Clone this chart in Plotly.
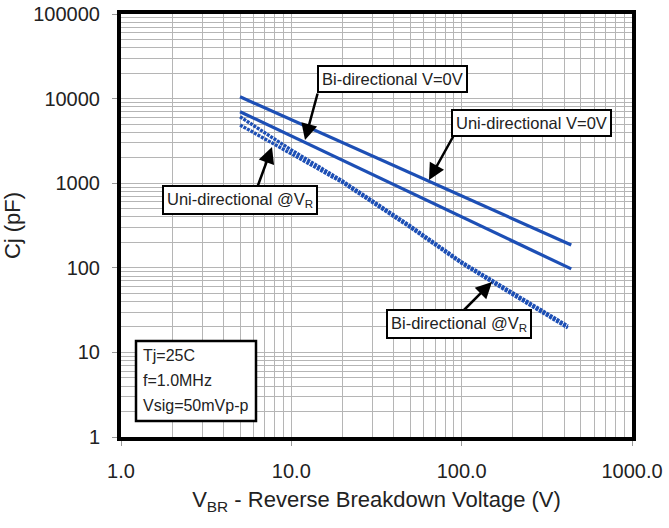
import plotly.graph_objects as go

# ---- data ----
voltage_uni_0v = [5, 65, 440]
cap_uni_0v = [10500, 1045, 186]

voltage_bi_0v = [5, 65, 440]
cap_bi_0v = [7000, 601, 97]

voltage_uni_vr = [5, 7, 10, 20, 50, 100, 200, 420]
cap_uni_vr = [6100, 3900, 2470, 1060, 312, 117, 50, 20.5]

voltage_bi_vr = [5, 7, 10, 20, 50, 100, 200, 420]
cap_bi_vr = [4880, 3330, 2240, 1016, 299, 113, 48, 19.5]

x_tick_vals = [1, 10, 100, 1000]
x_tick_text = ["1.0", "10.0", "100.0", "1000.0"]
y_tick_vals = [1, 10, 100, 1000, 10000, 100000]
y_tick_text = ["1", "10", "100", "1000", "10000", "100000"]

BLUE = "#1d4fb5"
GRID = "#b5b5b5"
TXT = "#222222"
FONT = "Liberation Sans, Arial, sans-serif"

fig = go.Figure()
fig.add_trace(go.Scatter(x=voltage_uni_0v, y=cap_uni_0v, mode="lines",
                         line=dict(color=BLUE, width=3.2), name="Uni-directional V=0V"))
fig.add_trace(go.Scatter(x=voltage_bi_0v, y=cap_bi_0v, mode="lines",
                         line=dict(color=BLUE, width=3.2), name="Bi-directional V=0V"))
fig.add_trace(go.Scatter(x=voltage_uni_vr, y=cap_uni_vr, mode="lines",
                         line=dict(color=BLUE, width=3.4, dash="3px,1px"), name="Uni-directional @VR"))
fig.add_trace(go.Scatter(x=voltage_bi_vr, y=cap_bi_vr, mode="lines",
                         line=dict(color=BLUE, width=3.4, dash="3px,1px"), name="Bi-directional @VR"))

# plot-area geometry in pixels (for placing labels)
L, R, T, B = 121, 632, 14, 437
W, H = R - L, B - T


def px(x):
    return (x - L) / W


def py(y):
    return (B - y) / H


minor_x = [m * 10 ** e for e in range(0, 3) for m in range(2, 10)]
minor_y = [m * 10 ** e for e in range(0, 5) for m in range(2, 10)]

fig.update_layout(
    width=669, height=528,
    margin=dict(l=L, r=669 - R, t=T, b=528 - B, autoexpand=False),
    paper_bgcolor="white", plot_bgcolor="white",
    showlegend=False,
    font=dict(family=FONT, color=TXT),
    xaxis=dict(
        type="log", range=[0, 3], automargin=False,
        tickvals=x_tick_vals, ticktext=x_tick_text,
        tickfont=dict(size=20, color=TXT),
        ticks="outside", ticklen=5, tickcolor="#999999", tickwidth=1,
        ticklabelstandoff=8,
        showgrid=True, gridcolor=GRID, gridwidth=1,
        minor=dict(tickvals=minor_x, showgrid=True, gridcolor=GRID, gridwidth=1, ticks=""),
        showline=True, linecolor="black", linewidth=4, mirror=True,
        zeroline=False,
        title=dict(text="V<sub>BR</sub> - Reverse Breakdown Voltage (V)",
                   font=dict(size=22, color=TXT), standoff=12),
    ),
    yaxis=dict(
        type="log", range=[0, 5], automargin=False,
        tickvals=y_tick_vals, ticktext=y_tick_text,
        tickfont=dict(size=20, color=TXT),
        ticks="outside", ticklen=5, tickcolor="#999999", tickwidth=1,
        ticklabelstandoff=8,
        showgrid=True, gridcolor=GRID, gridwidth=1,
        minor=dict(tickvals=minor_y, showgrid=True, gridcolor=GRID, gridwidth=1, ticks=""),
        showline=True, linecolor="black", linewidth=4, mirror=True,
        zeroline=False,
        title=dict(text="Cj (pF)", font=dict(size=22, color=TXT), standoff=10),
    ),
)

# arrows: (tail_x, tail_y, tip_x, tip_y) in pixels
arrows = [
    (318, 92, 305, 140),
    (454, 135, 429, 180),
    (257, 188, 272, 147),
    (462, 312, 492, 282),
]
for tx, ty, hx, hy in arrows:
    fig.add_annotation(xref="paper", yref="paper", x=px(hx), y=py(hy),
                       ax=tx - hx, ay=ty - hy, text="", showarrow=True,
                       arrowhead=2, arrowsize=1.3, arrowwidth=2.5, arrowcolor="black")

labels = [
    ("Bi-directional V=0V", 392, 79),
    ("Uni-directional V=0V", 531, 123),
    ("Uni-directional @V<sub>R</sub>", 240, 200),
    ("Bi-directional @V<sub>R</sub>", 459, 324),
]
for text, cx, cy in labels:
    fig.add_annotation(xref="paper", yref="paper", x=px(cx), y=py(cy),
                       text=text, showarrow=False, xanchor="center", yanchor="middle",
                       font=dict(size=16.5, color=TXT, family=FONT),
                       bgcolor="white", bordercolor="black", borderwidth=2, borderpad=3)

# conditions box
fig.add_shape(type="rect", xref="paper", yref="paper",
              x0=px(136), x1=px(256), y0=py(421), y1=py(341),
              line=dict(color="black", width=2.5), fillcolor="white", layer="above")
cond_lines = ["Tj=25C", "f=1.0MHz", "Vsig=50mVp-p"]
for i, t in enumerate(cond_lines):
    fig.add_annotation(xref="paper", yref="paper", x=px(141), y=py(355 + 25 * i),
                       text=t, showarrow=False, xanchor="left", yanchor="middle",
                       font=dict(size=16, color=TXT, family=FONT))

fig.write_html("out.html", config={"displayModeBar": False},
               post_script="document.body.style.margin='0px';document.body.style.overflow='hidden';")
